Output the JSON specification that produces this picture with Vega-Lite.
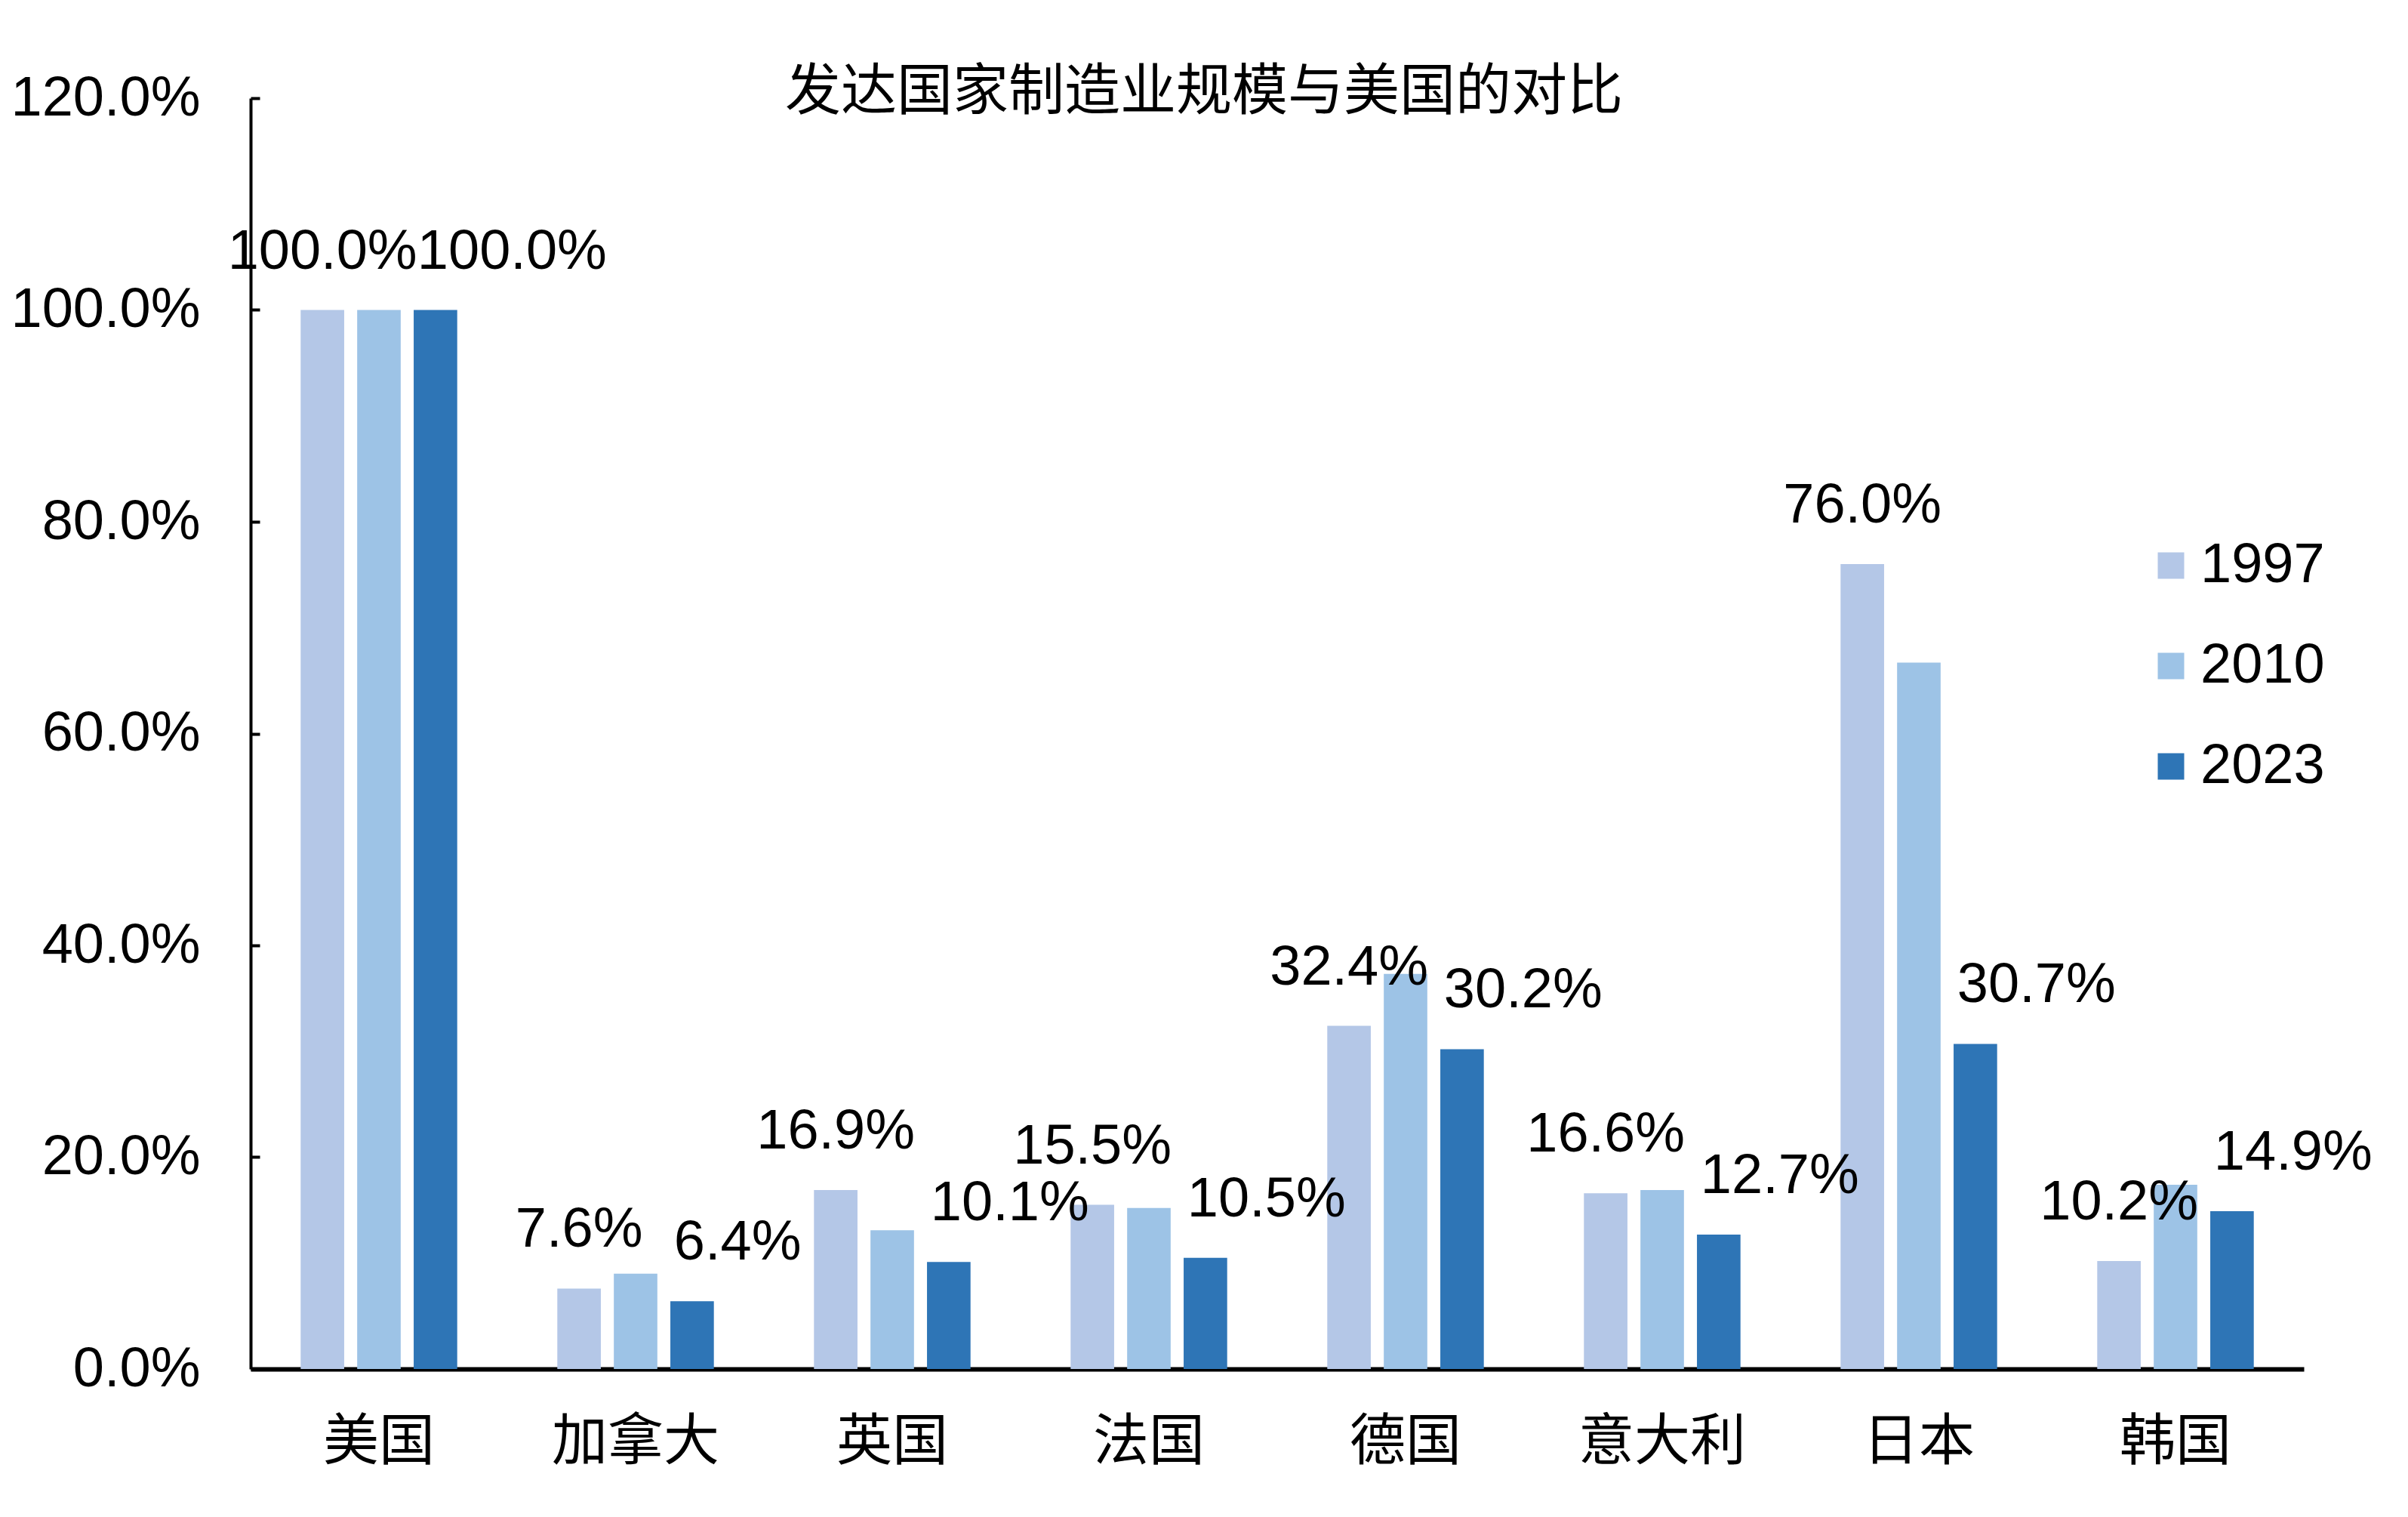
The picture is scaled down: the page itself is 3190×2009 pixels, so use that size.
{
  "$schema": "https://vega.github.io/schema/vega-lite/v6.json",
  "width": 2720,
  "height": 1683,
  "autosize": {"type": "none"},
  "padding": {"left": 332, "top": 130, "right": 138, "bottom": 196},
  "background": "white",
  "title": {
    "text": "发达国家制造业规模与美国的对比",
    "font": "Noto Sans CJK SC",
    "fontSize": 74,
    "fontWeight": "normal",
    "color": "black",
    "anchor": "middle",
    "baseline": "middle",
    "dx": -97,
    "offset": -104
  },
  "data": {
    "values": [
      {"country": "美国", "year": "1997", "value": 1.0},
      {"country": "美国", "year": "2010", "value": 1.0},
      {"country": "美国", "year": "2023", "value": 1.0},
      {"country": "加拿大", "year": "1997", "value": 0.076},
      {"country": "加拿大", "year": "2010", "value": 0.090},
      {"country": "加拿大", "year": "2023", "value": 0.064},
      {"country": "英国", "year": "1997", "value": 0.169},
      {"country": "英国", "year": "2010", "value": 0.131},
      {"country": "英国", "year": "2023", "value": 0.101},
      {"country": "法国", "year": "1997", "value": 0.155},
      {"country": "法国", "year": "2010", "value": 0.152},
      {"country": "法国", "year": "2023", "value": 0.105},
      {"country": "德国", "year": "1997", "value": 0.324},
      {"country": "德国", "year": "2010", "value": 0.373},
      {"country": "德国", "year": "2023", "value": 0.302},
      {"country": "意大利", "year": "1997", "value": 0.166},
      {"country": "意大利", "year": "2010", "value": 0.169},
      {"country": "意大利", "year": "2023", "value": 0.127},
      {"country": "日本", "year": "1997", "value": 0.760},
      {"country": "日本", "year": "2010", "value": 0.667},
      {"country": "日本", "year": "2023", "value": 0.307},
      {"country": "韩国", "year": "1997", "value": 0.102},
      {"country": "韩国", "year": "2010", "value": 0.174},
      {"country": "韩国", "year": "2023", "value": 0.149}
    ]
  },
  "encoding": {
    "x": {
      "field": "country",
      "type": "nominal",
      "sort": ["美国", "加拿大", "英国", "法国", "德国", "意大利", "日本", "韩国"],
      "scale": {"paddingInner": 0.39, "paddingOuter": 0.195},
      "axis": {
        "title": null,
        "labelAngle": 0,
        "labelFont": "Noto Sans CJK SC",
        "labelFontSize": 74,
        "labelColor": "black",
        "labelPadding": 61,
        "labelLimit": 1000,
        "ticks": false,
        "domainColor": "black",
        "domainWidth": 6,
        "grid": false
      }
    },
    "xOffset": {
      "field": "year",
      "type": "nominal",
      "scale": {"paddingInner": 0.23, "paddingOuter": 0}
    },
    "y": {
      "field": "value",
      "type": "quantitative",
      "scale": {"domain": [0, 1.2], "nice": false},
      "axis": {
        "title": null,
        "values": [0, 0.2, 0.4, 0.6, 0.8, 1.0, 1.2],
        "format": ".1%",
        "labelFont": "Liberation Sans",
        "labelFontSize": 74,
        "labelColor": "black",
        "labelLimit": 1000,
        "domainColor": "black",
        "domainWidth": 4,
        "tickColor": "black",
        "tickWidth": 4,
        "tickSize": -12,
        "labelPadding": 79,
        "grid": false
      }
    }
  },
  "layer": [
    {
      "mark": {"type": "bar"},
      "encoding": {
        "color": {
          "field": "year",
          "type": "nominal",
          "scale": {"domain": ["1997", "2010", "2023"], "range": ["#B4C7E7", "#9DC3E6", "#2E75B6"]},
          "legend": {
            "orient": "none",
            "legendX": 2507,
            "legendY": 582,
            "title": null,
            "symbolType": "square",
            "symbolSize": 1225,
            "symbolStrokeWidth": 0,
            "symbolOpacity": 1,
            "labelFont": "Liberation Sans",
            "labelFontSize": 74,
            "labelColor": "black",
            "labelLimit": 1000,
            "labelOffset": 2,
            "rowPadding": 59,
            "padding": 0
          }
        }
      }
    },
    {
      "transform": [{"filter": "datum.year == '1997'"}],
      "mark": {
        "type": "text",
        "font": "Liberation Sans",
        "fontSize": 74,
        "color": "black",
        "baseline": "middle",
        "align": "center",
        "dy": -77
      },
      "encoding": {
        "text": {"field": "value", "type": "quantitative", "format": ".1%"}
      }
    },
    {
      "transform": [{"filter": "datum.year == '2023'"}],
      "mark": {
        "type": "text",
        "font": "Liberation Sans",
        "fontSize": 74,
        "color": "black",
        "baseline": "middle",
        "align": "left",
        "dx": -24,
        "dy": -77
      },
      "encoding": {
        "text": {"field": "value", "type": "quantitative", "format": ".1%"}
      }
    }
  ],
  "config": {"view": {"stroke": null}}
}
